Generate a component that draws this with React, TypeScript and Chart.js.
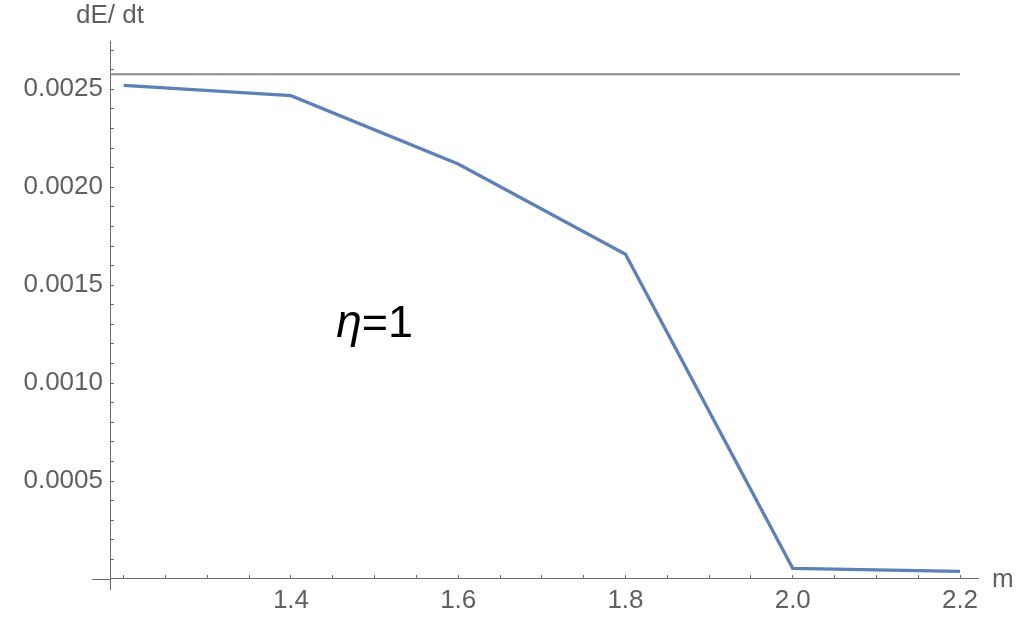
import React, { useEffect, useRef } from "react";
import { Chart, registerables } from "chart.js";

Chart.register(...registerables);

// ---- data ----
const massValues = [1.2, 1.4, 1.6, 1.8, 2.0, 2.2];
const dEdtValues = [0.0025204, 0.0024673, 0.0021186, 0.0016576, 0.0000546, 0.0000393];
const referenceLevel = 0.0025766;
const xTickLabels = ["1.4", "1.6", "1.8", "2.0", "2.2"];
const yTickLabels = ["0.0005", "0.0010", "0.0015", "0.0020", "0.0025"];
const xAxisTitle = "m";
const yAxisTitle = "dE/ dt";
const annotationText = { symbol: "η", rest: "=1", x: 1.5, y: 0.0013 };

// ---- ranges ----
const X_MIN = 1.18362;
const X_MAX = 2.22152;
const Y_MIN = -0.0000511;
const Y_MAX = 0.0027466;

const FONT = "'Liberation Sans', Arial, Helvetica, sans-serif";
const AXIS_COLOR = "#6b6b6b";
const LABEL_COLOR = "#606060";

const decorations = {
  id: "decorations",
  afterDraw(chart: any) {
    const ctx = chart.ctx;
    const xs = chart.scales.x;
    const ys = chart.scales.y;
    const area = chart.chartArea;
    const y0 = Math.round(ys.getPixelForValue(0)) + 0.5;
    ctx.save();
    // x axis extension to the left of the y axis
    ctx.strokeStyle = AXIS_COLOR;
    ctx.lineWidth = 1;
    ctx.beginPath();
    ctx.moveTo(area.left - 18, y0);
    ctx.lineTo(area.left, y0);
    ctx.stroke();

    // axis titles
    ctx.fillStyle = LABEL_COLOR;
    ctx.font = `26px ${FONT}`;
    ctx.textAlign = "center";
    ctx.textBaseline = "alphabetic";
    ctx.fillText(yAxisTitle, area.left, area.top - 18);
    ctx.textAlign = "left";
    ctx.textBaseline = "middle";
    ctx.fillText(xAxisTitle, area.right + 14, y0);

    // annotation
    const cx = xs.getPixelForValue(annotationText.x);
    const cy = ys.getPixelForValue(annotationText.y);
    ctx.fillStyle = "#000";
    ctx.textBaseline = "middle";
    ctx.font = `italic 46px ${FONT}`;
    const w1 = ctx.measureText(annotationText.symbol).width;
    ctx.font = `45px ${FONT}`;
    const w2 = ctx.measureText(annotationText.rest).width;
    const start = cx - (w1 + w2) / 2;
    ctx.font = `italic 46px ${FONT}`;
    ctx.textAlign = "left";
    ctx.fillText(annotationText.symbol, start, cy);
    ctx.font = `45px ${FONT}`;
    ctx.fillText(annotationText.rest, start + w1, cy);
    ctx.restore();
  },
};

function near(v: number, target: number) {
  return Math.abs(v - target) < 1e-9;
}

export default function App() {
  const ref = useRef<HTMLCanvasElement | null>(null);
  useEffect(() => {
    if (!ref.current) return;
    const chart = new Chart(ref.current, {
      type: "line",
      data: {
        datasets: [
          {
            data: massValues.map((m, i) => ({ x: m, y: dEdtValues[i] })),
            borderColor: "#5E81B5",
            borderWidth: 3.3,
            pointRadius: 0,
            tension: 0,
            fill: false,
          },
          {
            data: [
              { x: X_MIN, y: referenceLevel },
              { x: 2.2, y: referenceLevel },
            ],
            borderColor: "#8a8a8a",
            borderWidth: 2,
            pointRadius: 0,
            tension: 0,
            fill: false,
          },
        ],
      },
      options: {
        animation: false,
        responsive: false,
        layout: { padding: { left: 0, top: 41, bottom: 43, right: 48 } },
        plugins: { legend: { display: false }, tooltip: { enabled: false } },
        scales: {
          x: {
            type: "linear",
            min: X_MIN,
            max: X_MAX,
            position: { y: 0 } as any,
            border: { display: true, color: AXIS_COLOR, width: 1 },
            grid: { drawOnChartArea: false, drawTicks: true, tickLength: -4, color: AXIS_COLOR, tickColor: AXIS_COLOR },
            ticks: {
              stepSize: 0.05,
              includeBounds: false,
              autoSkip: false,
              maxRotation: 0,
              padding: 10,
              color: LABEL_COLOR,
              font: { family: FONT, size: 26 },
              callback: (v: any) => {
                for (const l of xTickLabels) if (near(Number(v), parseFloat(l))) return l;
                return "";
              },
            },
          },
          y: {
            type: "linear",
            min: Y_MIN,
            max: Y_MAX,
            position: "left",
            afterFit: (scale: any) => {
              scale.width = 110;
            },
            border: { display: true, color: AXIS_COLOR, width: 1 },
            grid: { drawOnChartArea: false, drawTicks: true, tickLength: -4, color: AXIS_COLOR, tickColor: AXIS_COLOR },
            ticks: {
              stepSize: 0.0001,
              includeBounds: false,
              autoSkip: false,
              padding: 11,
              color: LABEL_COLOR,
              font: { family: FONT, size: 26 },
              callback: (v: any) => {
                for (const l of yTickLabels) if (near(Number(v), parseFloat(l))) return l;
                return "";
              },
            },
          },
        },
      },
      plugins: [decorations],
    } as any);
    return () => chart.destroy();
  }, []);
  return (
    <div style={{ position: "fixed", left: 0, top: 0, width: 1026, height: 632, background: "#fff" }}>
      <canvas ref={ref} width={1026} height={632} />
    </div>
  );
}
